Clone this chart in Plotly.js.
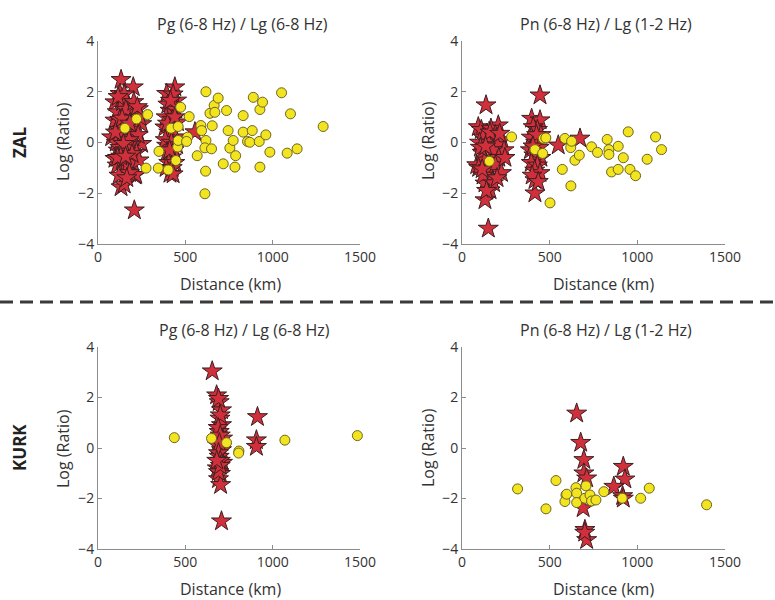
<!DOCTYPE html>
<html>
<head>
<meta charset="utf-8">
<script src="https://cdn.plot.ly/plotly-3.0.1.min.js"></script>
<style>html,body{margin:0;padding:0;background:#fff;}#chart{width:775px;height:600px;}</style>
</head>
<body>
<div id="chart"></div>
<script>
// ---------- DATA ----------
const panelTitles = ["Pg (6-8 Hz) / Lg (6-8 Hz)", "Pn (6-8 Hz) / Lg (1-2 Hz)"];
const stationLabels = ["ZAL", "KURK"];
const xTickVals = [0, 500, 1000, 1500];
const yTickVals = [-4, -2, 0, 2, 4];
const xLabel = "Distance (km)";
const yLabel = "Log (Ratio)";

// ZAL, Pg/Lg : earthquakes (yellow circles)
const zalPgEqDist  = [154,221,284,275,345,349,402,418,446,456,459,459,473,522,513,507,568,589,593,618,618,612,616,612,641,650,654,665,669,688,717,736,745,755,774,784,788,831,831,856,883,889,869,927,923,927,942,961,984,1051,1083,1102,1140,1289];
const zalPgEqRatio = [0.56,0.93,1.10,-1.01,-1.01,-0.35,-1.08,0.56,-0.71,-0.18,0.63,0.08,1.39,1.02,0.21,0.04,-0.52,0.67,0.47,2.00,0.08,-0.21,-1.13,-2.02,1.15,-0.25,0.66,1.46,1.19,1.75,-0.84,1.26,0.47,-0.22,0.08,-0.97,-0.52,1.06,0.41,0.04,0.47,1.78,0.01,-0.97,0.04,1.30,1.59,0.30,-0.38,1.96,-0.42,1.13,-0.25,0.63];
// ZAL, Pg/Lg : explosions (red stars)
const zalPgExDist  = [132,202,126,97,173,145,231,97,250,78,164,250,116,97,173,145,212,132,150,208,216,110,140,160,190,120,150,185,215,105,135,200,230,125,155,190,220,110,140,170,200,235,120,180,150,115,160,205,125,178,145,100,240,195,130,165,225,138,112,182,158,
                      440,393,450,412,383,440,393,421,412,555,430,400,445,390,425,455,405,430,385,420,450,395,435,405,440,390,425,430,415,398,440,410];
const zalPgExRatio = [2.47,2.18,1.92,1.59,1.52,1.13,1.32,0.87,0.73,0.21,0.01,-0.05,-0.31,-0.64,-0.64,-1.10,-1.30,-1.76,-1.65,-2.67,-1.27,1.20,1.60,0.90,1.10,0.50,0.60,0.50,0.80,0.00,0.20,0.20,0.30,-0.20,-0.30,-0.10,-0.40,-0.90,-0.70,-0.90,-0.80,-0.70,-1.30,-1.20,1.90,1.80,1.30,1.60,0.90,0.10,-0.05,0.40,1.00,-0.45,-0.55,-1.40,1.40,0.95,-0.60,0.75,-0.55,
                      2.18,1.92,1.66,1.26,0.60,0.21,-0.12,-0.58,-1.23,0.41,1.90,1.50,1.30,1.00,0.90,0.80,0.40,0.50,0.10,0.00,-0.10,-0.40,-0.30,-0.80,-0.80,-1.00,-1.00,-1.25,1.65,0.75,1.00,-0.30];

// ZAL, Pn/Lg
const zalPnEqDist  = [156,283,416,464,478,460,502,572,587,620,625,621,644,669,739,773,828,838,838,853,891,891,920,948,958,990,1056,1104,1138];
const zalPnEqRatio = [-0.74,0.22,-0.28,0.16,0.18,-0.43,-2.38,-1.06,0.16,-0.20,0.05,-1.71,-0.70,-0.50,-0.17,-0.39,0.12,-0.28,-0.47,-1.16,-0.15,-1.06,-0.60,0.42,-1.06,-1.31,-0.66,0.22,-0.28];
const zalPnExDist  = [137,93,207,141,84,169,131,160,131,150,110,165,120,190,230,100,150,200,240,115,175,130,210,95,150,190,225,120,180,140,105,160,215,135,245,200,115,
                      445,397,445,406,416,416,549,673,430,395,450,420,390,440,410,450,395,430,415,445,400,435,425,405];
const zalPnExRatio = [1.47,0.61,0.68,0.35,-0.89,-1.35,-1.61,-1.88,-2.27,-3.39,0.50,0.55,0.20,0.30,0.10,0.00,0.00,-0.10,-0.30,-0.40,-0.30,-0.70,-0.60,-1.00,-1.00,-0.90,-1.20,-1.30,-1.60,-1.90,-0.20,0.40,0.35,-0.15,-0.60,-1.40,-1.05,
                      1.86,0.94,0.88,0.61,-1.48,-2.00,-0.11,0.16,0.50,0.20,0.30,0.00,-0.30,-0.20,-0.50,-0.60,-0.80,-0.90,-1.10,-1.20,-1.30,-1.55,0.30,-0.15];

// KURK, Pg/Lg
const kurkPgEqDist  = [437,650,736,807,805,1070,1485];
const kurkPgEqRatio = [0.41,0.38,0.21,-0.12,-0.20,0.31,0.49];
const kurkPgExDist  = [654,679,694,707,698,707,694,713,683,707,694,713,683,701,690,702,707,913,907,907,690,700,688,700,695,690,700,690,700,680];
const kurkPgExRatio = [3.04,2.09,1.82,1.50,1.17,0.91,0.64,0.38,0.12,-0.08,-0.34,-0.58,-0.80,-1.02,-1.23,-1.46,-2.90,1.23,0.31,0.05,1.95,1.30,0.80,0.50,0.20,-0.20,-0.50,-0.95,-0.70,-0.50];

// KURK, Pn/Lg
const kurkPnEqDist  = [317,479,536,593,587,650,654,654,707,701,730,739,764,809,914,1019,1068,1395,597];
const kurkPnEqRatio = [-1.62,-2.41,-1.29,-1.86,-2.12,-1.57,-1.79,-2.16,-1.50,-1.99,-1.86,-2.10,-2.06,-1.73,-1.99,-1.99,-1.59,-2.25,-1.83];
const kurkPnExDist  = [654,677,695,695,711,691,701,711,920,929,866,916,920,700];
const kurkPnExRatio = [1.37,0.21,-0.47,-1.00,-1.20,-2.38,-3.24,-3.64,-0.74,-1.24,-1.53,-1.90,-2.00,-3.35];

// ---------- STYLE ----------
const FONT = "'Open Sans', 'Noto Sans', sans-serif";
const starMarker = {symbol: 'star', size: 15, color: '#d12f3b', line: {color: '#3d1f1f', width: 1}};
const circMarker = {symbol: 'circle', size: 10, color: '#f2e41e', line: {color: '#6e6422', width: 1}};

const panels = [
  {ex: [zalPgExDist, zalPgExRatio], eq: [zalPgEqDist, zalPgEqRatio], xa: 'x', ya: 'y'},
  {ex: [zalPnExDist, zalPnExRatio], eq: [zalPnEqDist, zalPnEqRatio], xa: 'x2', ya: 'y2'},
  {ex: [kurkPgExDist, kurkPgExRatio], eq: [kurkPgEqDist, kurkPgEqRatio], xa: 'x3', ya: 'y3'},
  {ex: [kurkPnExDist, kurkPnExRatio], eq: [kurkPnEqDist, kurkPnEqRatio], xa: 'x4', ya: 'y4'}
];

const traces = [];
panels.forEach(p => {
  traces.push({type: 'scatter', mode: 'markers', x: p.ex[0], y: p.ex[1], xaxis: p.xa, yaxis: p.ya, marker: starMarker, cliponaxis: false, hoverinfo: 'x+y'});
  traces.push({type: 'scatter', mode: 'markers', x: p.eq[0], y: p.eq[1], xaxis: p.xa, yaxis: p.ya, marker: circMarker, cliponaxis: false, hoverinfo: 'x+y'});
});

const W = 775, H = 600;
const px = v => v / W;
const py = v => 1 - v / H;

const colDom = [[px(98), px(360)], [px(462), px(725)]];
const rowDom = [[py(244), py(41)], [py(549), py(347)]];

function xAx(dom, anchor) {
  return {domain: dom, anchor: anchor, range: [0, 1500], tickvals: xTickVals, showgrid: false, zeroline: false,
    showline: true, linecolor: '#8c8c8c', linewidth: 1, ticks: 'inside', ticklen: 4, tickcolor: '#8c8c8c',
    tickfont: {family: FONT, size: 14, color: '#333'}, fixedrange: true};
}
function yAx(dom, anchor) {
  return {domain: dom, anchor: anchor, range: [-4, 4], tickvals: yTickVals, showgrid: false, zeroline: false,
    showline: true, linecolor: '#8c8c8c', linewidth: 1, ticks: 'inside', ticklen: 4, tickcolor: '#8c8c8c',
    tickfont: {family: FONT, size: 14, color: '#333'}, fixedrange: true};
}

const ann = [];
const txt = (text, x, y, opts) => Object.assign({text: text, x: px(x), y: py(y), xref: 'paper', yref: 'paper', showarrow: false,
  xanchor: 'center', yanchor: 'middle', font: {family: FONT, size: 16, color: '#333'}}, opts || {});
// subplot titles
ann.push(txt(panelTitles[0], 242, 24));
ann.push(txt(panelTitles[1], 606, 24));
ann.push(txt(panelTitles[0], 244, 330));
ann.push(txt(panelTitles[1], 606, 330));
// x axis titles
ann.push(txt(xLabel, 231, 284));
ann.push(txt(xLabel, 603, 284));
ann.push(txt(xLabel, 231, 589));
ann.push(txt(xLabel, 603, 589));
// y axis titles
ann.push(txt(yLabel, 63, 141, {textangle: -90}));
ann.push(txt(yLabel, 428, 141, {textangle: -90}));
ann.push(txt(yLabel, 63, 448, {textangle: -90}));
ann.push(txt(yLabel, 428, 448, {textangle: -90}));
// station labels
ann.push(txt('<b>' + stationLabels[0] + '</b>', 19, 142, {textangle: -90, font: {family: FONT, size: 17, color: '#222'}}));
ann.push(txt('<b>' + stationLabels[1] + '</b>', 19, 448, {textangle: -90, font: {family: FONT, size: 17, color: '#222'}}));

const layout = {
  width: W, height: H, margin: {l: 0, r: 0, t: 0, b: 0}, showlegend: false,
  paper_bgcolor: '#fff', plot_bgcolor: 'rgba(0,0,0,0)',
  xaxis: xAx(colDom[0], 'y'), yaxis: yAx(rowDom[0], 'x'),
  xaxis2: xAx(colDom[1], 'y2'), yaxis2: yAx(rowDom[0], 'x2'),
  xaxis3: xAx(colDom[0], 'y3'), yaxis3: yAx(rowDom[1], 'x3'),
  xaxis4: xAx(colDom[1], 'y4'), yaxis4: yAx(rowDom[1], 'x4'),
  annotations: ann,
  shapes: [{type: 'line', xref: 'paper', yref: 'paper', x0: 0, x1: 1, y0: py(302), y1: py(302),
    line: {color: '#3a3a3a', width: 3, dash: '13px,7px'}}]
};

Plotly.newPlot('chart', traces, layout, {displayModeBar: false, staticPlot: true});
</script>
</body>
</html>
